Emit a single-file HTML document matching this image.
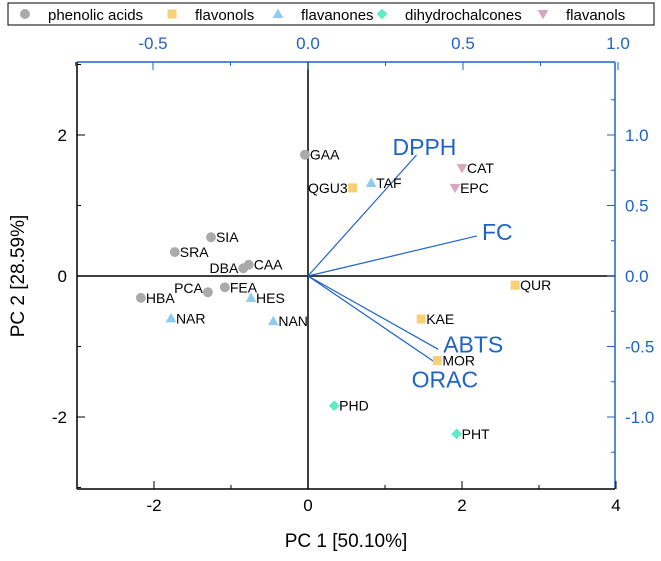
<!DOCTYPE html>
<html><head><meta charset="utf-8"><style>
body{margin:0;background:#fff;font-family:"Liberation Sans",sans-serif}
</style></head><body>
<svg id="c" width="661" height="556" xmlns="http://www.w3.org/2000/svg" font-family="Liberation Sans, sans-serif"></svg>
<script>
const scoreNames=["GAA","QGU3","TAF","CAT","EPC","SIA","SRA","DBA","CAA","FEA","PCA","HBA","HES","NAR","NAN","QUR","KAE","MOR","PHD","PHT"];
const scoreGroups=[0,1,2,4,4,0,0,0,0,0,0,0,2,2,2,1,1,1,3,3];
const scoreX=[-0.04,0.58,0.82,2.0,1.91,-1.26,-1.73,-0.84,-0.77,-1.08,-1.3,-2.17,-0.74,-1.78,-0.45,2.69,1.47,1.68,0.34,1.93];
const scoreY=[1.72,1.25,1.32,1.53,1.25,0.55,0.34,0.11,0.16,-0.16,-0.23,-0.31,-0.31,-0.6,-0.64,-0.13,-0.61,-1.2,-1.84,-2.24];
const loadNames=["DPPH","FC","ABTS","ORAC"];
const loadX=[0.35,0.545,0.42,0.415];
const loadY=[0.858,0.284,-0.52,-0.62];
const groupNames=["phenolic acids","flavonols","flavanones","dihydrochalcones","flavanols"];
const groupColors=["#aaaaaa","#f7cf74","#8fcbee","#5eecc4","#d9a7bd"];
const xTicks=[-2,0,2,4], yTicks=[-2,0,2], topTicks=[-0.5,0,0.5,1.0], rightTicks=[-1.0,-0.5,0,0.5,1.0];

const L=77,R=615,T=62,B=489;
const sx=v=>308+v*77, sy=v=>276-v*70.5;
const tx=v=>308+v*310, ry=v=>276-v*141;
const svg=document.getElementById('c');
const NS="http://www.w3.org/2000/svg";
function mk(tag,attrs,txt){const e=document.createElementNS(NS,tag);for(const k in attrs)e.setAttribute(k,attrs[k]);if(txt!=null)e.textContent=txt;svg.appendChild(e);return e;}
function marker(g,x,y,s){
  const c=groupColors[g];let e;
  if(g===0)e=mk('circle',{cx:x,cy:y,r:s*0.55,fill:c});
  else if(g===1)e=mk('rect',{x:x-s/2,y:y-s/2,width:s,height:s,fill:c});
  else if(g===2)e=mk('polygon',{points:`${x},${y-s*0.6} ${x-s*0.6},${y+s*0.45} ${x+s*0.6},${y+s*0.45}`,fill:c});
  else if(g===3)e=mk('polygon',{points:`${x},${y-s*0.6} ${x+s*0.6},${y} ${x},${y+s*0.6} ${x-s*0.6},${y}`,fill:c});
  else e=mk('polygon',{points:`${x},${y+s*0.6} ${x-s*0.6},${y-s*0.45} ${x+s*0.6},${y-s*0.45}`,fill:c});
  return e;
}
function fmt(v,d){return (v<0?'-':'')+Math.abs(v).toFixed(d);}
// legend
let lg=mk('rect',{x:8,y:3,width:646,height:22,fill:'#fff',stroke:'#000','stroke-width':1});

const legX=[25,172,278,382,543];
groupNames.forEach((n,i)=>{
  const m=marker(i,legX[i],14,9);
  
  const t=mk('text',{x:legX[i]+23,y:20,'font-size':15,fill:'#000'},n);
  
});
// frame
let f=mk('line',{x1:L,y1:T,x2:R,y2:T,stroke:'#1f63c6','stroke-width':1.5});
f=mk('line',{x1:R,y1:T,x2:R,y2:B,stroke:'#1f63c6','stroke-width':1.5});
f=mk('line',{x1:L,y1:T,x2:L,y2:B,stroke:'#000','stroke-width':1.5});
f=mk('line',{x1:L,y1:B,x2:R,y2:B,stroke:'#000','stroke-width':1.5});
f=mk('line',{x1:sx(0),y1:T,x2:sx(0),y2:B,stroke:'#000','stroke-width':1.5});
f=mk('line',{x1:L,y1:sy(0),x2:R,y2:sy(0),stroke:'#000','stroke-width':1.5});
// ticks
for(let v=-3;v<=4;v++){const x=sx(v);const big=xTicks.includes(v);mk('line',{x1:x,y1:B,x2:x,y2:B-(big?8:4),stroke:'#000'});}
xTicks.forEach(v=>{const t=mk('text',{x:sx(v),y:B+22,'font-size':17,'text-anchor':'middle'},fmt(v,0));});
for(let v=-3;v<=3;v++){const y=sy(v);const big=yTicks.includes(v);mk('line',{x1:L,y1:y,x2:L+(big?8:4),y2:y,stroke:'#000'});}
yTicks.forEach(v=>{const t=mk('text',{x:L-10,y:sy(v)+6,'font-size':17,'text-anchor':'end'},fmt(v,0));});
for(let v=-0.75;v<=1.01;v+=0.25){const x=tx(v);const big=Math.abs(v*2-Math.round(v*2))<1e-6;mk('line',{x1:x,y1:T,x2:x,y2:T+(big?8:4),stroke:'#1f63c6'});}
topTicks.forEach(v=>{const t=mk('text',{x:tx(v),y:T-13,'font-size':17,'text-anchor':'middle',fill:'#1f63c6'},fmt(v,1));});
for(let v=-1.25;v<=1.26;v+=0.25){const y=ry(v);if(y<T||y>B)continue;const big=Math.abs(v*2-Math.round(v*2))<1e-6;mk('line',{x1:R,y1:y,x2:R-(big?8:4),y2:y,stroke:'#1f63c6'});}
rightTicks.forEach(v=>{const t=mk('text',{x:R+10,y:ry(v)+6,'font-size':17,fill:'#1f63c6'},fmt(v,1));});
let t=mk('text',{x:346,y:547,'font-size':19,'text-anchor':'middle'},'PC 1 [50.10%]');
t=mk('text',{x:0,y:0,'font-size':19,'text-anchor':'middle',transform:'translate(24,276) rotate(-90)'},'PC 2 [28.59%]');
// loadings
const loadLabelDx=[-24,5,5,-25], loadLabelDy=[0,4,3,24];
loadNames.forEach((n,i)=>{
  const l=mk('line',{x1:tx(0),y1:ry(0),x2:tx(loadX[i]),y2:ry(loadY[i]),stroke:'#1f63c6','stroke-width':1.2});
  
  const tt=mk('text',{x:tx(loadX[i])+loadLabelDx[i],y:ry(loadY[i])+loadLabelDy[i],'font-size':23,fill:'#1f63c6'},n);
  
});
// scores
scoreNames.forEach((n,i)=>{
  const x=sx(scoreX[i]),y=sy(scoreY[i]);
  const m=marker(scoreGroups[i],x,y,9);
  
  let lx=x+5,anchor='start';
  if(n==='QGU3'||n==='DBA'||n==='PCA'){lx=x-5;anchor='end';}
  let ly=y+5;if(n==='PCA')ly=y+1;
  const tt=mk('text',{x:lx,y:ly,'font-size':14,'text-anchor':anchor},n);
  
});
</script>
</body></html>
